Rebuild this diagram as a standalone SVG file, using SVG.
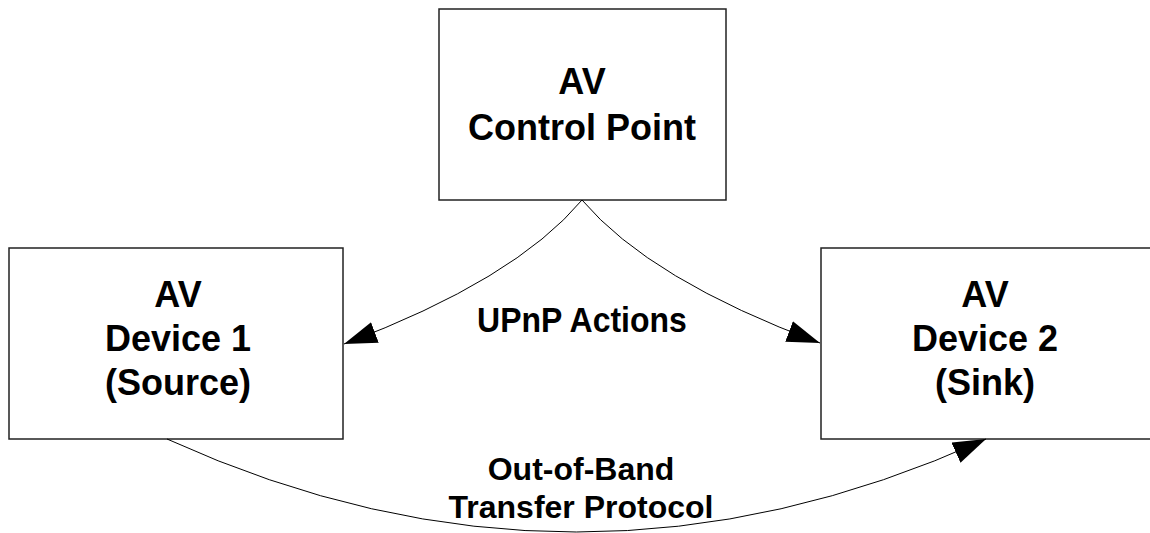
<svg xmlns="http://www.w3.org/2000/svg" width="1150" height="533" viewBox="0 0 1150 533">
<style>
.box{fill:#fff;stroke:#222;stroke-width:1.5}
.lbl{font-family:"Liberation Sans",Arial,sans-serif;font-weight:bold;font-size:36px;fill:#000;text-anchor:middle}
.el{font-family:"Liberation Sans",Arial,sans-serif;font-weight:bold;font-size:32px;fill:#000;text-anchor:middle}
.conn{fill:none;stroke:#000;stroke-width:1}
</style>
<defs>
<marker id="arr" markerUnits="userSpaceOnUse" markerWidth="36" markerHeight="24" refX="33" refY="11" orient="auto">
<path d="M0,0 L33,11 L0,22 z" fill="#000"/>
</marker>
</defs>
<rect width="1150" height="533" fill="#fff"/>
<g id="control-point">
<rect class="box" x="439" y="9" width="287" height="191"/>
<text class="lbl" x="582" y="94">AV</text>
<text class="lbl" x="582" y="140">Control Point</text>
</g>
<g id="device1">
<rect class="box" x="9" y="248" width="334" height="191"/>
<text class="lbl" x="178" y="307">AV</text>
<text class="lbl" x="178" y="351">Device 1</text>
<text class="lbl" x="178" y="395">(Source)</text>
</g>
<g id="device2">
<rect class="box" x="821" y="248" width="334" height="191"/>
<text class="lbl" x="985" y="307">AV</text>
<text class="lbl" x="985" y="351">Device 2</text>
<text class="lbl" x="985" y="395">(Sink)</text>
</g>
<g id="connectors">
<path class="conn" d="M582,200 Q515,280 344,344" marker-end="url(#arr)"/>
<path class="conn" d="M582,200 Q650,280 820,343" marker-end="url(#arr)"/>
<path class="conn" d="M167,439 Q576,625 986,439" marker-end="url(#arr)"/>
<text class="el" transform="translate(582,332) scale(1,1.12)">UPnP Actions</text>
<text class="el" x="581" y="480">Out-of-Band</text>
<text class="el" x="581" y="518">Transfer Protocol</text>
</g>
</svg>
